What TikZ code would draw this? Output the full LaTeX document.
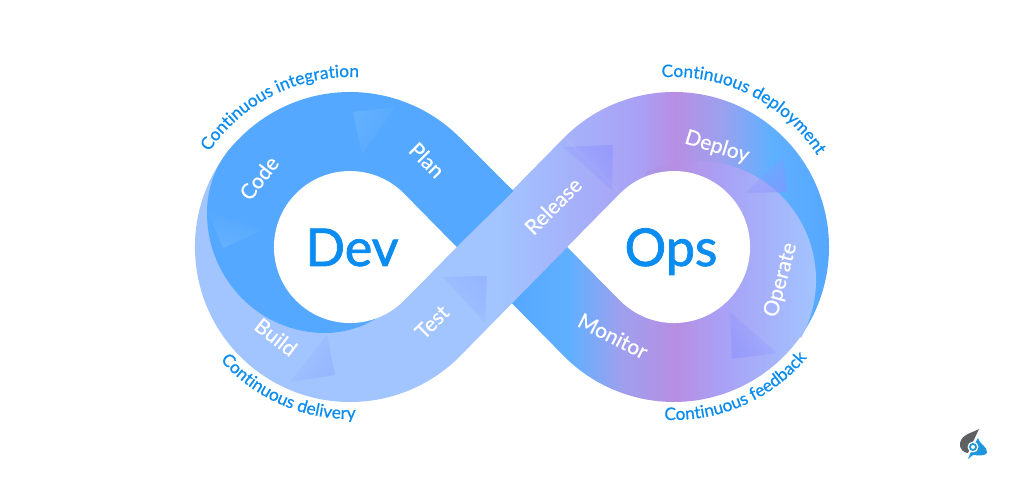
\documentclass[tikz,border=0pt]{standalone}
\usepackage{fontspec}
\setmainfont{Lato}
\newfontfamily\stepfont{Lato}[FakeBold=0.5]
\newfontfamily\hubfont{Lato}[FakeBold=1.5]
\usetikzlibrary{decorations.text,fadings}

\definecolor{devblue}{HTML}{0A8CF0}
\definecolor{backblue}{HTML}{55A8FF}
\definecolor{frontblue}{HTML}{A2C4FF}
\definecolor{skyblue}{HTML}{60B0FF}
\definecolor{paleviolet}{HTML}{A9A0F5}
\definecolor{midviolet}{HTML}{9DA0EE}
\definecolor{deepviolet}{HTML}{B78EE2}
\definecolor{foldsky}{HTML}{6FB8FF}
\definecolor{foldfront}{HTML}{8FACFF}
\definecolor{foldviolet}{HTML}{8C92FF}
\definecolor{logogray}{HTML}{5F6062}
\definecolor{logoblue}{HTML}{1E96DC}

% rectangle from x=0 to x=1000, so position = 25 + x/20
\pgfdeclarehorizontalshading{deployshade}{100bp}{color(0bp)=(frontblue); color(50bp)=(frontblue);
	color(57bp)=(paleviolet); color(58.75bp)=(deepviolet);
	color(61bp)=(midviolet); color(63.5bp)=(skyblue); color(66.45bp)=(backblue); color(100bp)=(backblue)}
\pgfdeclarehorizontalshading{monitorshade}{100bp}{color(0bp)=(backblue); color(50.65bp)=(backblue);
	color(53.5bp)=(skyblue); color(56bp)=(midviolet); color(58.75bp)=(deepviolet);
	color(61bp)=(paleviolet); color(65.8bp)=(frontblue); color(100bp)=(frontblue)}

\tikzfading[name=patchfade, left color=transparent!0, right color=transparent!100]

\tikzset{
	steplabel/.style={text=white, font=\stepfont\fontsize{21}{21}\selectfont},
	hublabel/.style={text=devblue, font=\hubfont\fontsize{52}{52}\selectfont, anchor=base},
	patch/.style={path fading=patchfade, draw=none, opacity=0.55}
}
\newcommand{\arclabelfont}{\stepfont\fontsize{17.3}{17.3}\selectfont}

\begin{document}
\begin{tikzpicture}[x=1pt, y=1pt]
\path[use as bounding box, fill=white] (0,0) rectangle (1024,494);
\coordinate (devc) at (350,247);
\coordinate (opsc) at (674,247);

% deploy ring, lies under everything
\begin{scope}
	\clip (564.4,356.6) arc[start angle=135, end angle=-35.5, radius=155] -- (opsc) -- cycle;
	\shade[shading=deployshade] (0,0) rectangle (1000,494);
\end{scope}

% monitor and operate
\begin{scope}
	\clip (459.6,356.6) -- (620.3,193.3) -- (645.8,321.4)
		arc[start angle=115.5, end angle=-29, radius=119] -- (800.2,157)
		arc[start angle=-35.5, end angle=-135, radius=155] -- (403.7,300.7) -- cycle;
	\shade[shading=monitorshade] (0,0) rectangle (1000,494);
\end{scope}

% build, test and release
\begin{scope}
	\clip (235.5,351.5) arc[start angle=137.6, end angle=315, radius=155]
		-- (620.3,300.7) -- (564.4,356.6) -- (403.7,193.3) -- (devc) -- cycle;
	\shade[shading=deployshade] (0,0) rectangle (1000,494);
\end{scope}

% code and plan
\fill[backblue] (513.5,303) -- (459.6,356.6) arc[start angle=45, end angle=137.6, radius=155]
	.. controls (218,334) and (207,309) .. (207,281)
	arc[start angle=180, end angle=270, x radius=118, y radius=120]
	.. controls (343,161) and (361,166) .. (377,176) -- (devc) -- (456.5,247) -- cycle;

% folds
\fill[foldsky, patch, fading angle=-35] (353,382) -- (395,387) -- (362,339) -- cycle;
\fill[foldsky, patch, fading angle=70] (223,246) -- (208,282) -- (263,264) -- cycle;
\fill[foldfront, patch, fading angle=145] (335,119) -- (327,159) -- (290,112) -- cycle;
\fill[foldfront, patch, fading angle=225] (487,218) -- (485,171) -- (443,217) -- cycle;
\fill[foldviolet, patch, fading angle=225] (613,349) -- (612,304) -- (563,347) -- cycle;
\fill[foldviolet, patch, fading angle=135] (787,302) -- (783,337) -- (745,301) -- cycle;
\fill[foldviolet, patch, fading angle=45] (732,135) -- (730,182) -- (777,141) -- cycle;

% holes
\fill[white] (456.5,247) -- (403.7,300.7) arc[start angle=45, end angle=315, radius=76] -- cycle;
\fill[white] (567.5,247) -- (620.3,300.7) arc[start angle=135, end angle=-135, radius=76] -- cycle;

\node[hublabel] (dev) at (352,228) {Dev};
\node[hublabel] (ops) at (671,228) {Ops};

\node[steplabel, rotate=52] (code) at (259,316) {Code};
\node[steplabel, rotate=-45] (plan) at (427,334) {Plan};
\node[steplabel, rotate=-38] (build) at (276,157) {Build};
\node[steplabel, rotate=45] (test) at (432,172) {Test};
\node[steplabel, rotate=45] (release) at (553,288) {Release};
\node[steplabel, rotate=-17] (deploy) at (717,347) {Deploy};
\node[steplabel, rotate=75] (operate) at (781,214) {Operate};
\node[steplabel, rotate=-27] (monitor) at (613,158) {Monitor};

\path[decorate, decoration={text along path, text align=center, text color=devblue, text={|\arclabelfont|Continuous integration}}]
	([shift={(devc)}]146:170) arc[start angle=146, end angle=87, radius=170];
\path[decorate, decoration={text along path, text align=center, text color=devblue, text={|\arclabelfont|Continuous delivery}}]
	([shift={(devc)}]221:172) arc[start angle=221, end angle=272, radius=172];
\path[decorate, decoration={text along path, text align=center, text color=devblue, text={|\arclabelfont|Continuous deployment}}]
	([shift={(opsc)}]94:170) arc[start angle=94, end angle=32.7, radius=170];
\path[decorate, decoration={text along path, text align=center, text color=devblue, text={|\arclabelfont|Continuous feedback}}]
	([shift={(opsc)}]266:173) arc[start angle=266, end angle=321, radius=173];

% logo
\fill[logogray] (979,65) .. controls (972,61) and (962,60) .. (960,51)
	.. controls (959,45) and (964,41) .. (968,41) -- (971,48) -- cycle;
\fill[logoblue] (978,56) .. controls (979,50) and (987,48) .. (987,42)
	.. controls (987,39) and (983,38) .. (973,39) -- (968,35) -- (973,47) -- cycle;
\fill[white] (973,47) circle (5.5);
\fill[logoblue] (973,47) circle (4);
\fill[white] (973,47) circle (2);

\end{tikzpicture}
\end{document}
